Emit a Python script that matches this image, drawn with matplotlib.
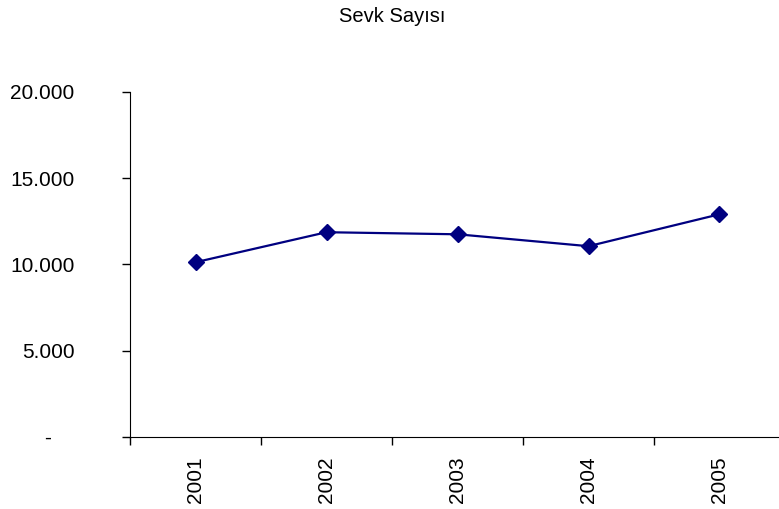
import matplotlib
matplotlib.use("Agg")
import matplotlib.pyplot as plt

# Data
years = ["2001", "2002", "2003", "2004", "2005"]
sevk = [10130, 11870, 11750, 11060, 12910]
y_ticks = [0, 5000, 10000, 15000, 20000]
y_labels = ["-    ", "5.000", "10.000", "15.000", "20.000"]

plt.rcParams['font.family'] = ['Liberation Sans', 'DejaVu Sans']

fig = plt.figure(figsize=(7.79, 5.09), dpi=100)
# the plot area runs a little past the right edge of the picture
ax = fig.add_axes([0.1669, 0.1415, 0.8408, 0.6778])

x = [i + 0.5 for i in range(len(years))]
ax.plot(x, sevk, color='#000080', linewidth=1.6, marker='D', markersize=8,
        clip_on=False)

ax.set_xlim(0, len(years))
ax.set_ylim(0, 20000)

# category axis: ticks at the borders, labels at the centres
ax.set_xticks(range(len(years) + 1))
ax.set_xticklabels([])
ax.set_xticks(x, minor=True)
ax.set_xticklabels(years, minor=True, rotation=90, fontsize=15)
ax.tick_params(axis='x', which='major', direction='out', length=6, width=1)
ax.tick_params(axis='x', which='minor', length=0, pad=14)

ax.set_yticks(y_ticks)
ax.set_yticklabels(y_labels, fontsize=15)
ax.tick_params(axis='y', direction='out', length=6, width=1, pad=34)

for s in ['top', 'right']:
    ax.spines[s].set_visible(False)

fig.text(0.503, 0.968, "Sevk Sayısı", ha='center', va='center', fontsize=14.5)

fig.savefig("out.png", dpi=100)
